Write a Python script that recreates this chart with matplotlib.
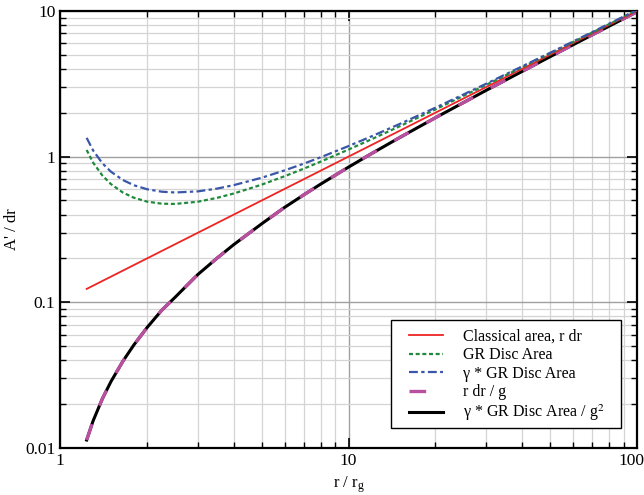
import matplotlib
matplotlib.use("Agg")
import matplotlib.pyplot as plt
import matplotlib.transforms as mtransforms
from matplotlib.patches import Rectangle
from matplotlib.ticker import LogLocator, NullFormatter, FixedLocator, FixedFormatter

plt.rcParams['font.family'] = ['Liberation Serif', 'DejaVu Serif']
plt.rcParams['mathtext.fontset'] = 'stix'

# radius in units of r_g, from the inner disc edge outwards
r = [1.235, 1.3, 1.4, 1.5, 1.65, 1.8, 2.0, 2.25, 2.5, 3.0, 3.5, 4.0, 5.0, 6.0,
     7.0, 8.0, 10.0, 12.0, 15.0, 20.0, 30.0, 50.0, 70.0, 100.0]

classical = [0.1235, 0.13, 0.14, 0.15, 0.165, 0.18, 0.2, 0.225, 0.25, 0.3, 0.35, 0.4,
             0.5, 0.6, 0.7, 0.8, 1.0, 1.2, 1.5, 2.0, 3.0, 5.0, 7.0, 10.0]
gr_area = [1.11, 0.910, 0.742, 0.647, 0.566, 0.522, 0.491, 0.475, 0.473, 0.490,
           0.521, 0.558, 0.642, 0.733, 0.827, 0.923, 1.118, 1.314, 1.611, 2.108,
           3.105, 5.103, 7.102, 10.10]
gamma_gr_area = [1.345, 1.103, 0.900, 0.787, 0.690, 0.636, 0.597, 0.574, 0.567,
                 0.577, 0.603, 0.637, 0.716, 0.804, 0.895, 0.989, 1.181, 1.376,
                 1.670, 2.165, 3.160, 5.156, 7.155, 10.15]
rdr_over_g = [0.01134, 0.01533, 0.02176, 0.02859, 0.03943, 0.05092, 0.0670, 0.0882,
              0.108, 0.155, 0.201, 0.249, 0.346, 0.448, 0.547, 0.647, 0.847, 1.047,
              1.347, 1.847, 2.848, 4.849, 6.849, 9.849]
gamma_gr_over_g2 = [0.01134, 0.01533, 0.02176, 0.02859, 0.03943, 0.05092, 0.0670, 0.0882,
                    0.108, 0.155, 0.201, 0.249, 0.346, 0.448, 0.547, 0.647, 0.847, 1.047,
                    1.347, 1.847, 2.848, 4.849, 6.849, 9.849]

fig = plt.figure(figsize=(6.44, 4.95), dpi=100)
ax = fig.add_axes([0.0935, 0.095, 0.8955, 0.883])

h_red, = ax.plot(r, classical, color='#ee2424', lw=1.3, label='Classical area, r dr', zorder=4)
h_green, = ax.plot(r, gr_area, color='#1f8a3c', lw=1.6, ls=(0, (1.8, 1.2)),
                   label='GR Disc Area', zorder=4)
h_blue, = ax.plot(r, gamma_gr_area, color='#3a56a8', lw=1.6, ls=(0, (4, 1.5, 1.5, 1.5)),
                  label='γ * GR Disc Area', zorder=4)
h_black, = ax.plot(r, gamma_gr_over_g2, color='black', lw=2.2,
                   label='γ * GR Disc Area / g$^2$', zorder=3)
h_mag, = ax.plot(r, rdr_over_g, color='#b8509f', lw=2.4, ls=(0, (5, 6)),
                 label='r dr / g', zorder=3.5)

ax.set_xscale('log')
ax.set_yscale('log')
ax.set_xlim(1, 100)
ax.set_ylim(0.01, 10)

ax.xaxis.set_major_locator(FixedLocator([1, 10, 100]))
ax.xaxis.set_major_formatter(FixedFormatter(['1', '10', '100']))
ax.yaxis.set_major_locator(FixedLocator([0.01, 0.1, 1, 10]))
ax.yaxis.set_major_formatter(FixedFormatter(['0.01', '0.1', '1', '10']))
ax.xaxis.set_minor_locator(LogLocator(base=10, subs=range(2, 10)))
ax.yaxis.set_minor_locator(LogLocator(base=10, subs=range(2, 10)))
ax.xaxis.set_minor_formatter(NullFormatter())
ax.yaxis.set_minor_formatter(NullFormatter())

ax.grid(which='minor', color='#d4d4d4', lw=0.9)
ax.grid(which='major', color='#a0a0a0', lw=1.0)
ax.set_axisbelow(True)

ax.tick_params(which='both', direction='in', top=True, right=True, labelsize=12.5)
ax.tick_params(which='major', length=7, width=1.2)
ax.tick_params(which='minor', length=4, width=1.0)
for sp in ax.spines.values():
    sp.set_linewidth(1.6)

# keep the "100" label inside the figure
fig.canvas.draw()
last = ax.get_xticklabels()[-1]
last.set_transform(last.get_transform() +
                   mtransforms.ScaledTranslation(-5 / 100, 0, fig.dpi_scale_trans))

ax.set_xlabel(r'r / r$_\mathregular{g}$', fontsize=12)
ax.set_ylabel("A' / dr", fontsize=12)

# legend box with wider side margins than the default frame allows
ax.add_patch(Rectangle((0.5737, 0.0458), 0.3986, 0.2471, transform=ax.transAxes,
                       facecolor='white', edgecolor='black', lw=1.0, zorder=4.9))
leg = ax.legend(handles=[h_red, h_green, h_blue, h_mag, h_black],
                loc='upper left', bbox_to_anchor=(0.6049, 0.272), fontsize=11.5,
                frameon=False, handlelength=2.15, handletextpad=1.2,
                borderpad=0, borderaxespad=0, labelspacing=0.15)
leg.set_zorder(5)

fig.savefig('out.png', dpi=100)
